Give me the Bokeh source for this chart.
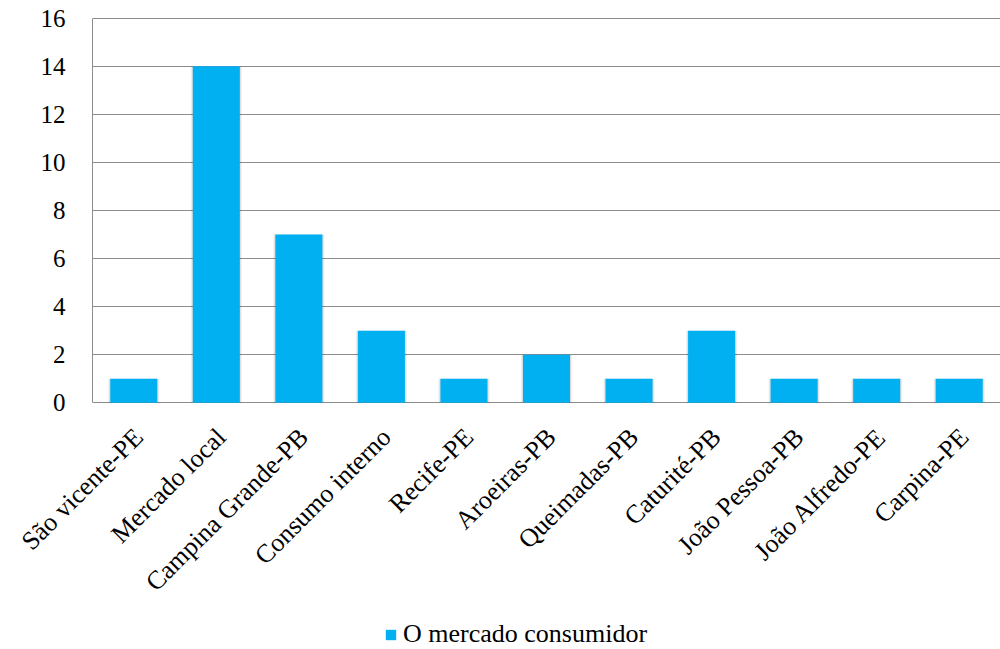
import math
from bokeh.plotting import figure
from bokeh.models import Legend, LegendItem, FixedTicker, ColumnDataSource, Range1d
from bokeh.embed import file_html
from bokeh.resources import INLINE

categories = ["São vicente-PE", "Mercado local", "Campina Grande-PB", "Consumo interno",
              "Recife-PE", "Aroeiras-PB", "Queimadas-PB", "Caturité-PB",
              "João Pessoa-PB", "João Alfredo-PE", "Carpina-PE"]
values = [1, 14, 7, 3, 1, 2, 1, 3, 1, 1, 1]
series_name = "O mercado consumidor"
y_ticks = [0, 2, 4, 6, 8, 10, 12, 14, 16]

FONT = "Liberation Serif"
GRID = "#8c8c8c"
BAR = "#00B0F0"

# layout (pixels)
TOP, PLOT_H, FIG_H = 17, 385, 649
LEFT, FIG_W = 92, 1000
Y_MAX = 16
below_px = FIG_H - TOP - PLOT_H
y_start = -Y_MAX * below_px / PLOT_H

src = ColumnDataSource(dict(cat=categories, val=values, base=[0] * len(values)))

p = figure(x_range=categories, y_range=Range1d(y_start, Y_MAX + 0.03),
           frame_width=FIG_W - LEFT, frame_height=FIG_H - TOP,
           output_backend="svg", toolbar_location=None,
           min_border_left=LEFT, min_border_right=0, min_border_top=TOP, min_border_bottom=0)
p.outline_line_color = None
p.background_fill_color = "white"

# soft shadow
p.vbar(x="cat", top="val", width=0.62, source=src, fill_color="#000000", fill_alpha=0.06, line_color=None)
p.vbar(x="cat", top="val", width=0.595, source=src, fill_color="#000000", fill_alpha=0.08, line_color=None)
r = p.vbar(x="cat", top="val", width=0.57, source=src, fill_color=BAR, line_color=None)

p.yaxis.ticker = FixedTicker(ticks=y_ticks)
p.yaxis.bounds = (0, Y_MAX)
p.ygrid.ticker = FixedTicker(ticks=y_ticks)
p.ygrid.grid_line_color = GRID
p.ygrid.grid_line_width = 1
p.xgrid.grid_line_color = None

p.yaxis.axis_line_color = GRID
p.yaxis.major_tick_line_color = None
p.yaxis.minor_tick_line_color = None
p.yaxis.major_label_text_font = FONT
p.yaxis.major_label_text_font_size = "25px"
p.yaxis.major_label_text_color = "#000000"
p.yaxis.major_label_standoff = 21

p.xaxis.visible = False

# category labels, rotated 45 degrees, anchored at their end under each category
p.text(x="cat", y="base", text="cat", source=src, angle=math.pi / 4,
       text_align="right", text_baseline="alphabetic",
       x_offset=5, y_offset=30, level="overlay",
       text_font=FONT, text_font_size="26px", text_color="#000000")

legend = Legend(items=[LegendItem(label=series_name, renderers=[r])],
                location=(384 - LEFT, 0), orientation="horizontal",
                label_text_font=FONT, label_text_font_size="26px", label_text_color="#000000",
                glyph_width=13, glyph_height=13, label_standoff=6,
                padding=0, margin=0, border_line_color=None, background_fill_alpha=0)
p.add_layout(legend, "center")

open("out.html", "w").write(file_html(p, INLINE))
